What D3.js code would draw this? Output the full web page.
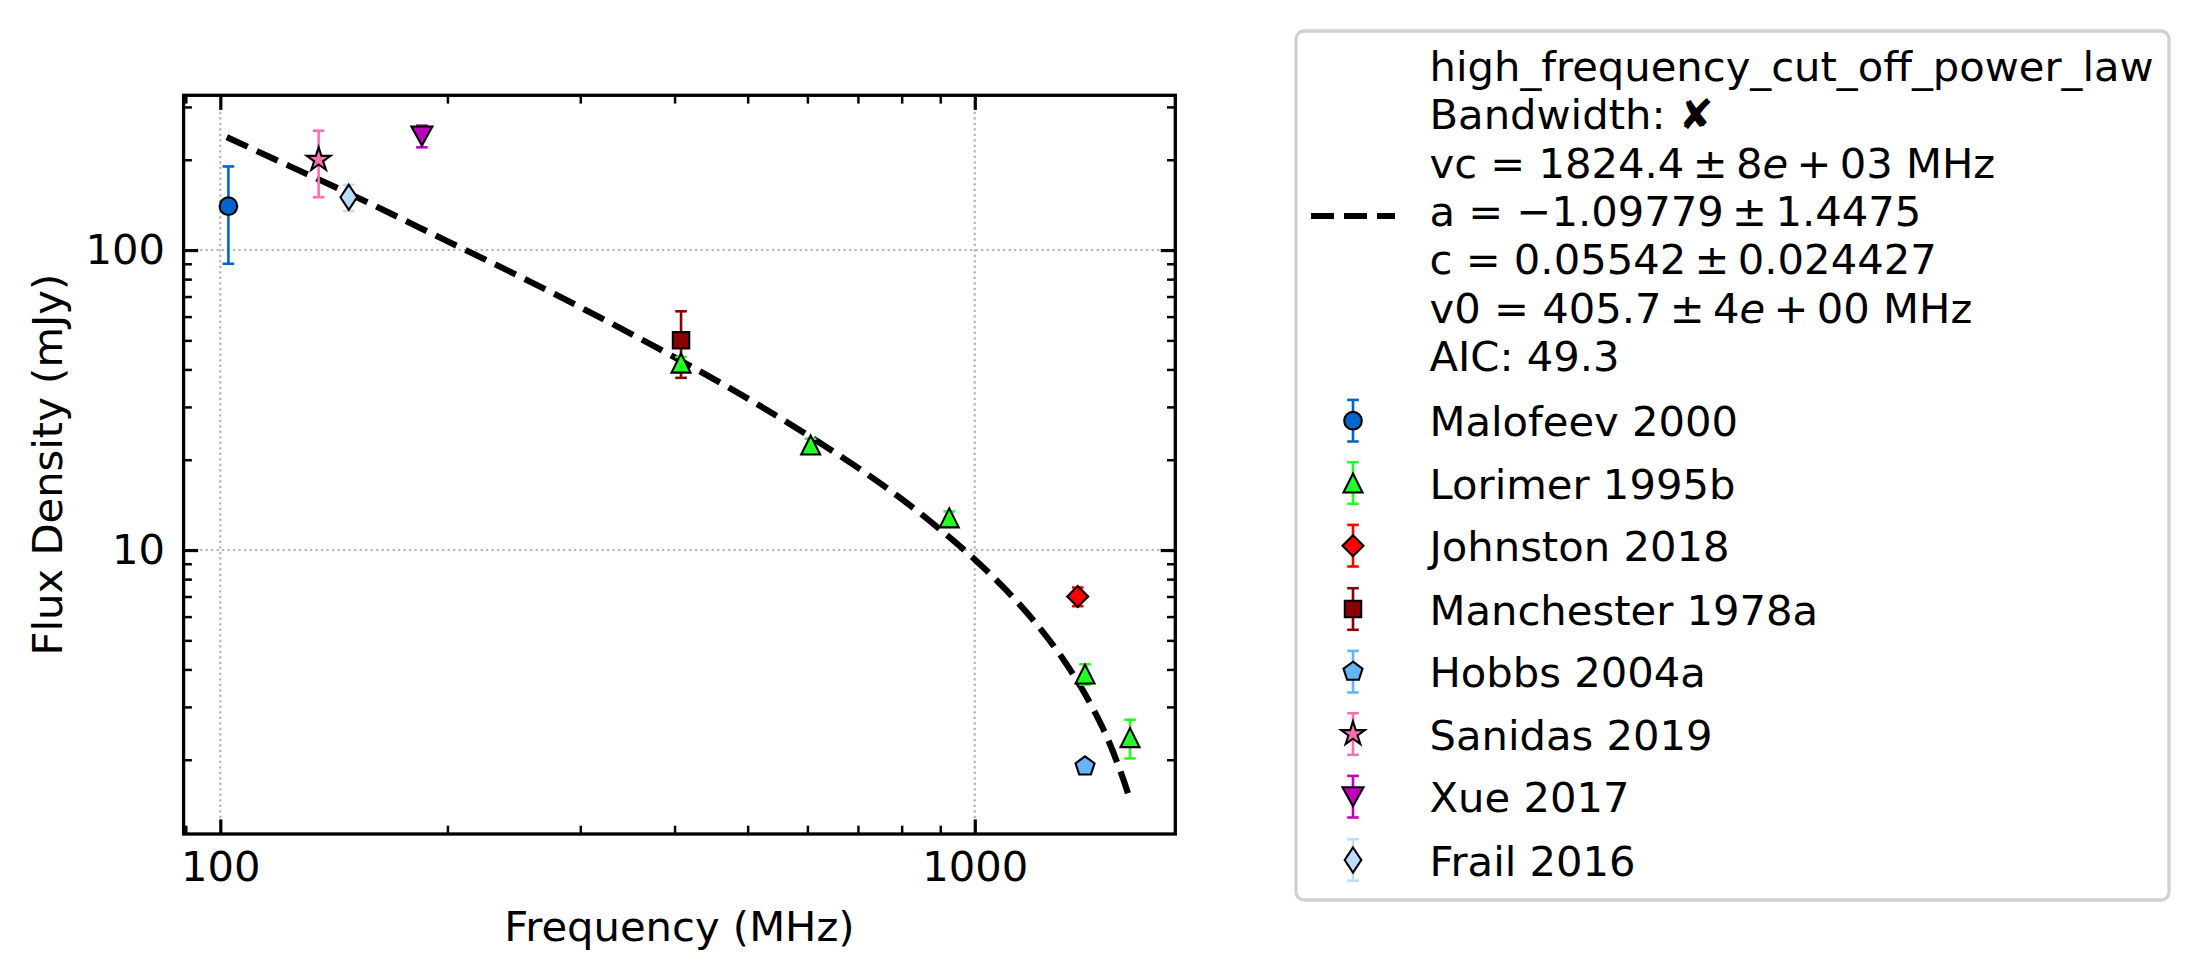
<!DOCTYPE html>
<html lang="en">
<head>
  <meta charset="UTF-8">
  <title>Flux density spectrum</title>
  <style>
body { margin: 0; background: #fff; }
svg { display: block; font-family: "DejaVu Sans", sans-serif; }
.tick text { font-size: 41.7px; fill: #000; font-family: "DejaVu Sans", sans-serif; }
  </style>
</head>
<body>
<div id="wrapper"></div>
<script src="https://cdnjs.cloudflare.com/ajax/libs/d3/7.8.5/d3.min.js"></script>
<script>

// references, legend order
const refNames = ["Malofeev 2000", "Lorimer 1995b", "Johnston 2018", "Manchester 1978a",
                  "Hobbs 2004a", "Sanidas 2019", "Xue 2017", "Frail 2016"];

// measurements: frequency (MHz), flux density (mJy), error (mJy)
const pointRef  = ["Malofeev 2000",
                   "Lorimer 1995b", "Lorimer 1995b", "Lorimer 1995b", "Lorimer 1995b", "Lorimer 1995b",
                   "Johnston 2018", "Manchester 1978a", "Hobbs 2004a", "Sanidas 2019", "Xue 2017", "Frail 2016"];
const pointFreq = [102.5, 408, 606, 925, 1400, 1606, 1369, 408, 1400, 135, 185, 148];
const pointFlux = [140, 42, 22.4, 12.8, 3.86, 2.37, 7.0, 50, 1.9, 200, 240, 150];
const pointErr  = [50, 2, 1.1, 0.65, 0.3, 0.35, 0.5, 12.5, 0.1, 50, 20, 15];

// fitted model
const fitFreq = [102, 120, 150, 200, 250, 300, 400, 500, 600, 700, 800, 900, 1000,
                 1100, 1200, 1300, 1400, 1450, 1500, 1550, 1580, 1606];
const fitFlux = [238, 197, 152, 107, 81.4, 64.5, 43.9, 32.0, 24.2, 18.8, 14.8, 11.7, 9.30,
                 7.36, 5.77, 4.44, 3.31, 2.81, 2.35, 1.91, 1.67, 1.47];

const fitLabel = [
  "high_frequency_cut_off_power_law",
  "Bandwidth: \u2718",
  "vc = 1824.4\u2009\u00b1\u20098e\u2009+\u200903 MHz",
  "a = \u22121.09779\u2009\u00b1\u20091.4475",
  "c = 0.05542\u2009\u00b1\u20090.024427",
  "v0 = 405.7\u2009\u00b1\u20094e\u2009+\u200900 MHz",
  "AIC: 49.3"
];

// tick values
const xMajor = [100, 1000];
const xMinor = [90, 200, 300, 400, 500, 600, 700, 800, 900];
const yMajor = [10, 100];
const yMinor = [2, 3, 4, 5, 6, 7, 8, 9, 20, 30, 40, 50, 60, 70, 80, 90, 200, 300];

// marker look per reference
const refStyle = {
  "Malofeev 2000":    { shape: "circle",   color: "#0066cc" },
  "Lorimer 1995b":    { shape: "triUp",    color: "#22ff22" },
  "Johnston 2018":    { shape: "diamond",  color: "#ff0000" },
  "Manchester 1978a": { shape: "square",   color: "#8b0000" },
  "Hobbs 2004a":      { shape: "pentagon", color: "#66b3ff" },
  "Sanidas 2019":     { shape: "star",     color: "#ff6eb4" },
  "Xue 2017":         { shape: "triDown",  color: "#bf00bf" },
  "Frail 2016":       { shape: "thinDiamond", color: "#bcdcff" }
};

function polyPath(pts) {
  return "M" + pts.map(p => p[0].toFixed(2) + "," + p[1].toFixed(2)).join("L") + "Z";
}

function markerPath(shape) {
  if (shape === "circle") {
    const r = 8.8;
    return `M${-r},0A${r},${r} 0 1,0 ${r},0A${r},${r} 0 1,0 ${-r},0Z`;
  }
  if (shape === "triUp") return polyPath([[0, -9.5], [-9.5, 9.5], [9.5, 9.5]]);
  if (shape === "triDown") return polyPath([[0, 9.5], [-10.5, -9.5], [10.5, -9.5]]);
  if (shape === "square") return polyPath([[-8.2, -8.2], [8.2, -8.2], [8.2, 8.2], [-8.2, 8.2]]);
  if (shape === "diamond") return polyPath([[0, -10.5], [10.5, 0], [0, 10.5], [-10.5, 0]]);
  if (shape === "thinDiamond") return polyPath([[0, -12.5], [8.3, 0], [0, 12.5], [-8.3, 0]]);
  if (shape === "pentagon") {
    const r = 10, pts = [];
    for (let k = 0; k < 5; k++) {
      const a = -Math.PI / 2 + k * 2 * Math.PI / 5;
      pts.push([r * Math.cos(a), r * Math.sin(a)]);
    }
    return polyPath(pts);
  }
  if (shape === "star") {
    const R = 12.5, r0 = R * 0.381966, pts = [];
    for (let k = 0; k < 10; k++) {
      const a = -Math.PI / 2 + k * Math.PI / 5;
      const rr = k % 2 === 0 ? R : r0;
      pts.push([rr * Math.cos(a), rr * Math.sin(a)]);
    }
    return polyPath(pts);
  }
}

// 2. chart dimensions
let dimensions = {
  width: 2198,
  height: 980,
  frame: { left: 183.6, top: 95.3, right: 1175.3, bottom: 834 },
  majorLen: 14.6,
  minorLen: 8.3,
  font: 41.7
};

const svg = d3.select("#wrapper")
  .append("svg")
  .attr("width", dimensions.width)
  .attr("height", dimensions.height)

svg.append("rect").attr("width", dimensions.width).attr("height", dimensions.height).attr("fill", "#fff")

const f = dimensions.frame
const xScale = d3.scaleLog().domain([89.4, 1844]).range([f.left, f.right])
const yScale = d3.scaleLog().domain([1.131, 328]).range([f.bottom, f.top])

// grid (decades only)
const grid = svg.append("g")
  .attr("stroke", "#b0b0b0")
  .attr("stroke-width", 2.1)
  .attr("stroke-dasharray", "2.1 3.4")
grid.selectAll("line.gx").data(xMajor).join("line")
  .attr("class", "gx")
  .attr("x1", d => xScale(d)).attr("x2", d => xScale(d))
  .attr("y1", f.top).attr("y2", f.bottom)
grid.selectAll("line.gy").data(yMajor).join("line")
  .attr("class", "gy")
  .attr("y1", d => yScale(d)).attr("y2", d => yScale(d))
  .attr("x1", f.left).attr("x2", f.right)

// fit curve
const fitData = fitFreq.map((d, i) => [d, fitFlux[i]])
const lineGenerator = d3.line()
  .x(d => xScale(d[0]))
  .y(d => yScale(d[1]))
  .curve(d3.curveMonotoneX)
svg.append("path")
  .attr("d", lineGenerator(fitData))
  .attr("fill", "none")
  .attr("stroke", "#000")
  .attr("stroke-width", 6.2)
  .attr("stroke-dasharray", "23 10")

// error bars first, then markers (matplotlib zorder)
const points = pointFreq.map((d, i) => ({
  freq: d, flux: pointFlux[i], err: pointErr[i], ref: pointRef[i]
}))
const capHalf = 5.8

const bars = svg.append("g")
points.forEach(p => {
  const c = refStyle[p.ref].color
  const x = xScale(p.freq)
  const y1 = yScale(p.flux + p.err), y2 = yScale(p.flux - p.err)
  const g = bars.append("g").attr("stroke", c).attr("stroke-width", 2.6)
  g.append("line").attr("x1", x).attr("x2", x).attr("y1", y1).attr("y2", y2)
  g.append("line").attr("x1", x - capHalf).attr("x2", x + capHalf).attr("y1", y1).attr("y2", y1)
  g.append("line").attr("x1", x - capHalf).attr("x2", x + capHalf).attr("y1", y2).attr("y2", y2)
})

const markers = svg.append("g")
refNames.forEach(name => {
  points.filter(p => p.ref === name).forEach(p => {
    markers.append("path")
      .attr("d", markerPath(refStyle[name].shape))
      .attr("transform", `translate(${xScale(p.freq)},${yScale(p.flux)})`)
      .attr("fill", refStyle[name].color)
      .attr("stroke", "#000")
      .attr("stroke-width", 2.1)
      .attr("stroke-linejoin", "miter")
  })
})

// axes: ticks point inward on all sides
function styleAxis(g, width) {
  g.select(".domain").remove()
  g.selectAll(".tick line").attr("stroke", "#000").attr("stroke-width", width)
}

svg.append("g")
  .attr("transform", `translate(0,${f.bottom})`)
  .call(d3.axisBottom(xScale).tickValues(xMajor).tickFormat(d3.format("d"))
    .tickSizeInner(-dimensions.majorLen).tickSizeOuter(0).tickPadding(17.4))
  .call(g => styleAxis(g, 3.2))
svg.append("g")
  .attr("transform", `translate(0,${f.bottom})`)
  .call(d3.axisBottom(xScale).tickValues(xMinor).tickFormat("")
    .tickSizeInner(-dimensions.minorLen).tickSizeOuter(0))
  .call(g => styleAxis(g, 2.5))
svg.append("g")
  .attr("transform", `translate(0,${f.top})`)
  .call(d3.axisTop(xScale).tickValues(xMajor).tickFormat("")
    .tickSizeInner(-dimensions.majorLen).tickSizeOuter(0))
  .call(g => styleAxis(g, 3.2))
svg.append("g")
  .attr("transform", `translate(0,${f.top})`)
  .call(d3.axisTop(xScale).tickValues(xMinor).tickFormat("")
    .tickSizeInner(-dimensions.minorLen).tickSizeOuter(0))
  .call(g => styleAxis(g, 2.5))

svg.append("g")
  .attr("transform", `translate(${f.left},0)`)
  .call(d3.axisLeft(yScale).tickValues(yMajor).tickFormat(d3.format("d"))
    .tickSizeInner(-dimensions.majorLen).tickSizeOuter(0).tickPadding(18.6))
  .call(g => styleAxis(g, 3.2))
svg.append("g")
  .attr("transform", `translate(${f.left},0)`)
  .call(d3.axisLeft(yScale).tickValues(yMinor).tickFormat("")
    .tickSizeInner(-dimensions.minorLen).tickSizeOuter(0))
  .call(g => styleAxis(g, 2.5))
svg.append("g")
  .attr("transform", `translate(${f.right},0)`)
  .call(d3.axisRight(yScale).tickValues(yMajor).tickFormat("")
    .tickSizeInner(-dimensions.majorLen).tickSizeOuter(0))
  .call(g => styleAxis(g, 3.2))
svg.append("g")
  .attr("transform", `translate(${f.right},0)`)
  .call(d3.axisRight(yScale).tickValues(yMinor).tickFormat("")
    .tickSizeInner(-dimensions.minorLen).tickSizeOuter(0))
  .call(g => styleAxis(g, 2.5))

svg.selectAll(".tick text").attr("font-size", dimensions.font)

// frame
svg.append("rect")
  .attr("x", f.left).attr("y", f.top)
  .attr("width", f.right - f.left).attr("height", f.bottom - f.top)
  .attr("fill", "none").attr("stroke", "#000").attr("stroke-width", 3.3)

// axis titles
svg.append("text")
  .attr("x", (f.left + f.right) / 2).attr("y", 941)
  .attr("text-anchor", "middle").attr("font-size", dimensions.font)
  .text("Frequency (MHz)")
svg.append("text")
  .attr("transform", `translate(62,${(f.top + f.bottom) / 2}) rotate(-90)`)
  .attr("text-anchor", "middle").attr("font-size", dimensions.font)
  .text("Flux Density (mJy)")

// legend
const legend = svg.append("g")
legend.append("rect")
  .attr("x", 1296).attr("y", 31).attr("width", 873).attr("height", 869)
  .attr("rx", 8).attr("ry", 8)
  .attr("fill", "#fff").attr("stroke", "#d0d0d0").attr("stroke-width", 3.3)

const handleX = 1353, textX = 1429.5

legend.append("line")
  .attr("x1", 1311).attr("x2", 1395).attr("y1", 216).attr("y2", 216)
  .attr("stroke", "#000").attr("stroke-width", 6.2).attr("stroke-dasharray", "23 10")

const fitBaselines = [81, 129, 178, 226, 274, 323, 371]
fitLabel.forEach((line, i) => {
  const t = legend.append("text")
    .attr("x", textX).attr("y", fitBaselines[i])
    .attr("font-size", dimensions.font)
  line.split(/(e(?=\u2009\+))/).forEach(part => {
    const ts = t.append("tspan").text(part)
    if (part === "e") ts.attr("font-style", "italic")
  })
})

const entryY = [420.7, 483, 545.7, 609, 671.7, 734, 796.7, 860]
refNames.forEach((name, i) => {
  const cy = entryY[i], c = refStyle[name].color
  const g = legend.append("g")
  g.append("line").attr("x1", handleX).attr("x2", handleX).attr("y1", cy - 20.8).attr("y2", cy + 20.8)
    .attr("stroke", c).attr("stroke-width", 2.6)
  g.append("line").attr("x1", handleX - capHalf).attr("x2", handleX + capHalf).attr("y1", cy - 20.8).attr("y2", cy - 20.8)
    .attr("stroke", c).attr("stroke-width", 2.6)
  g.append("line").attr("x1", handleX - capHalf).attr("x2", handleX + capHalf).attr("y1", cy + 20.8).attr("y2", cy + 20.8)
    .attr("stroke", c).attr("stroke-width", 2.6)
  g.append("path").attr("d", markerPath(refStyle[name].shape))
    .attr("transform", `translate(${handleX},${cy})`)
    .attr("fill", c).attr("stroke", "#000").attr("stroke-width", 2.1)
  g.append("text").attr("x", textX).attr("y", cy + 15.5)
    .attr("font-size", dimensions.font).text(name)
})

</script>
</body>
</html>
